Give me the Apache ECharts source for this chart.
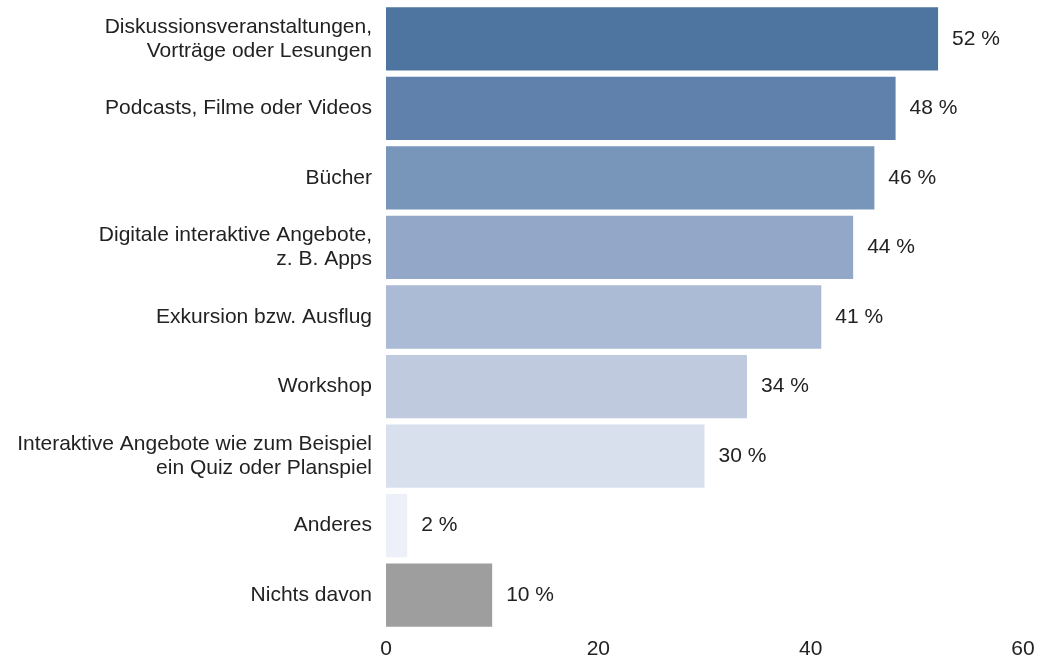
<!DOCTYPE html>
<html>
<head>
<meta charset="utf-8">
<style>
  html, body { margin: 0; padding: 0; background: #ffffff; }
  #chart { width: 1051px; height: 662px; }
</style>
<script src="https://cdn.jsdelivr.net/npm/echarts@6/dist/echarts.min.js"></script>
</head>
<body>
<div id="chart"></div>
<script>
// Kategorien von oben nach unten
const categories = [
  'Diskussionsveranstaltungen,\nVorträge oder Lesungen',
  'Podcasts, Filme oder Videos',
  'Bücher',
  'Digitale interaktive Angebote,\nz. B. Apps',
  'Exkursion bzw. Ausflug',
  'Workshop',
  'Interaktive Angebote wie zum Beispiel\nein Quiz oder Planspiel',
  'Anderes',
  'Nichts davon'
];
// Anteile in Prozent
const values = [52, 48, 46, 44, 41, 34, 30, 2, 10];
// Balkenfarben, vom dunklen Blau zum Hellblau, Grau für „Nichts davon“
const barColors = ['#4e75a0', '#6081ab', '#7895ba', '#93a8c8', '#abbad5', '#bfcadf', '#d8e0ed', '#edf0f8', '#9e9e9e'];
const xTicks = [0, 20, 40, 60];

const chart = echarts.init(document.getElementById('chart'));
const FONT = '"Liberation Sans", Arial, sans-serif';
const TEXT = '#222222';

chart.setOption({
  animation: false,
  grid: { left: 386, right: 28, top: 4, bottom: 32, containLabel: false },
  xAxis: {
    type: 'value',
    min: xTicks[0],
    max: xTicks[xTicks.length - 1],
    interval: 20,
    axisLine: { show: false },
    axisTick: { show: false },
    splitLine: { show: false },
    axisLabel: { color: TEXT, fontSize: 21, fontFamily: FONT, margin: 9 }
  },
  yAxis: {
    type: 'category',
    inverse: true,
    data: categories,
    axisLine: { show: false },
    axisTick: { show: false },
    axisLabel: { color: TEXT, fontSize: 21, fontFamily: FONT, margin: 14, lineHeight: 24, align: 'right' }
  },
  series: [{
    type: 'bar',
    barCategoryGap: '9%',
    data: values.map((v, i) => ({ value: v, itemStyle: { color: barColors[i] } })),
    label: {
      show: true,
      position: 'right',
      distance: 14,
      color: TEXT,
      fontSize: 21,
      fontFamily: FONT,
      formatter: p => p.value + ' %'
    }
  }]
});
</script>
</body>
</html>
